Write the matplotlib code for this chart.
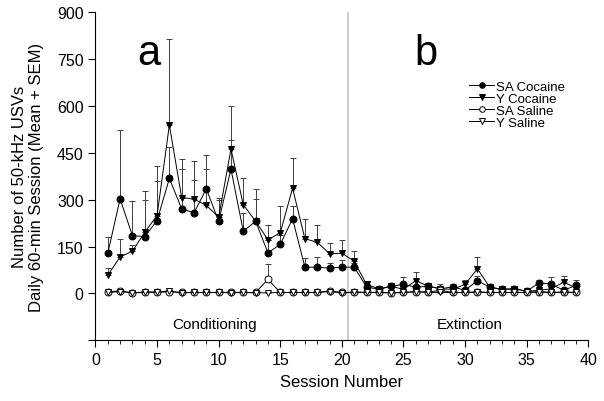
import numpy as np
import matplotlib
matplotlib.use("Agg")
from matplotlib import pyplot as plt
from matplotlib.lines import Line2D
from matplotlib.ticker import MultipleLocator

# --- Data (sessions 1-39) ---
sessions = list(range(1, 40))

sa_cocaine = [128, 303, 185, 182, 233, 368, 271, 258, 335, 231,
              398, 199, 231, 130, 157, 239, 84, 84, 81, 84,
              84, 21, 13, 23, 29, 20, 23, 15, 21, 10,
              41, 20, 13, 15, 7, 34, 30, 10, 26]
sa_cocaine_sem = [53, 220, 110, 146, 126, 100, 127, 106, 108, 68,
                  93, 60, 72, 40, 30, 40, 28, 33, 18, 22,
                  15, 8, 5, 8, 23, 8, 8, 5, 8, 5,
                  15, 6, 5, 5, 4, 10, 22, 6, 16]

y_cocaine = [58, 117, 135, 196, 249, 539, 307, 302, 282, 244,
             462, 284, 231, 172, 194, 337, 175, 164, 127, 129,
             103, 29, 15, 23, 13, 41, 23, 15, 13, 29,
             79, 20, 13, 15, 7, 10, 15, 36, 18]
y_cocaine_sem = [24, 58, 20, 102, 160, 274, 123, 123, 116, 63,
                 137, 85, 103, 46, 87, 96, 63, 54, 33, 43,
                 32, 10, 5, 6, 6, 27, 8, 5, 5, 13,
                 38, 6, 5, 5, 4, 6, 8, 21, 8]

sa_saline = [5, 8, 2, 5, 4, 5, 3, 3, 3, 3,
             4, 3, 3, 45, 3, 3, 3, 3, 8, 3,
             4, 4, 3, 2, 3, 6, 4, 10, 3, 3,
             4, 3, 3, 3, 3, 6, 3, 5, 3]
sa_saline_sem = [3, 3, 2, 3, 2, 3, 2, 2, 2, 2,
                 2, 2, 2, 48, 2, 2, 2, 2, 3, 2,
                 2, 2, 2, 2, 2, 3, 2, 19, 2, 2,
                 2, 2, 2, 2, 2, 3, 2, 3, 2]

y_saline = [3, 6, 2, 3, 4, 8, 2, 3, 3, 3,
            2, 3, 2, 2, 3, 3, 3, 3, 6, 2,
            3, 3, 3, 2, 3, 5, 4, 3, 3, 3,
            5, 3, 3, 3, 3, 4, 3, 3, 3]
y_saline_sem = [2, 3, 2, 2, 2, 3, 2, 2, 2, 2,
                2, 2, 2, 2, 2, 2, 2, 2, 3, 2,
                2, 2, 2, 2, 2, 3, 2, 2, 2, 2,
                3, 2, 2, 2, 2, 2, 2, 2, 2]

series_labels = ["SA Cocaine", "Y Cocaine", "SA Saline", "Y Saline"]


def main():
    plt.rcParams["font.family"] = ["Liberation Sans", "DejaVu Sans"]

    fig = plt.figure(figsize=(6.04, 4.02), dpi=100)
    ax = fig.add_axes([0.158, 0.151, 0.816, 0.816])

    # --- Plot each group with upper-only SEM bars ---
    groups = [
        (sa_cocaine, sa_cocaine_sem, "o", "black"),
        (y_cocaine, y_cocaine_sem, "v", "black"),
        (sa_saline, sa_saline_sem, "o", "white"),
        (y_saline, y_saline_sem, "v", "white"),
    ]
    handles = []
    for (means, sem, marker, face), label in zip(groups, series_labels):
        lower = np.zeros(len(sem))
        ax.errorbar(sessions, means, yerr=[lower, sem], fmt="-" + marker,
                    color="black", mfc=face, mec="black", ms=5, mew=0.7,
                    lw=0.7, elinewidth=0.7, ecolor="0.25", capsize=2,
                    capthick=0.7)
        # legend entry: just line + marker, no error bar
        handles.append(Line2D([], [], color="black", lw=0.7, marker=marker,
                              mfc=face, mec="black", ms=4, mew=0.7,
                              label=label))

    # Phase divider between conditioning and extinction
    ax.axvline(20.5, color="0.78", lw=1.2, zorder=0)

    # --- Axes formatting ---
    ax.set_xlim(0, 40)
    ax.set_ylim(-150, 900)
    ax.set_yticks([-150, 0, 150, 300, 450, 600, 750, 900])
    ax.set_yticklabels(["", "0", "150", "300", "450", "600", "750", "900"])
    ax.xaxis.set_major_locator(MultipleLocator(5))
    ax.xaxis.set_minor_locator(MultipleLocator(1))
    ax.tick_params(which="major", direction="out", length=5, width=0.8,
                   labelsize=11.5)
    ax.tick_params(which="minor", direction="out", length=3, width=0.6)
    for side in ("top", "right"):
        ax.spines[side].set_visible(False)
    for side in ("left", "bottom"):
        ax.spines[side].set_linewidth(0.8)

    ax.set_xlabel("Session Number", fontsize=12, labelpad=5)
    ax.set_ylabel("Number of 50-kHz USVs\nDaily 60-min Session (Mean + SEM)",
                  fontsize=12, labelpad=9)

    # Panel letters and phase names
    ax.text(4.3, 770, "a", fontsize=30, ha="center", va="center")
    ax.text(26.8, 770, "b", fontsize=30, ha="center", va="center")
    ax.text(9.7, -99, "Conditioning", fontsize=11, ha="center", va="center")
    ax.text(30.4, -99, "Extinction", fontsize=11, ha="center", va="center")

    ax.legend(handles=handles, loc="upper left", bbox_to_anchor=(0.745, 0.812),
              frameon=False, fontsize=9.5, handlelength=1.9, handletextpad=0.15,
              labelspacing=-0.02, borderpad=0)

    fig.savefig("out.png", dpi=100)


if __name__ == "__main__":
    main()
